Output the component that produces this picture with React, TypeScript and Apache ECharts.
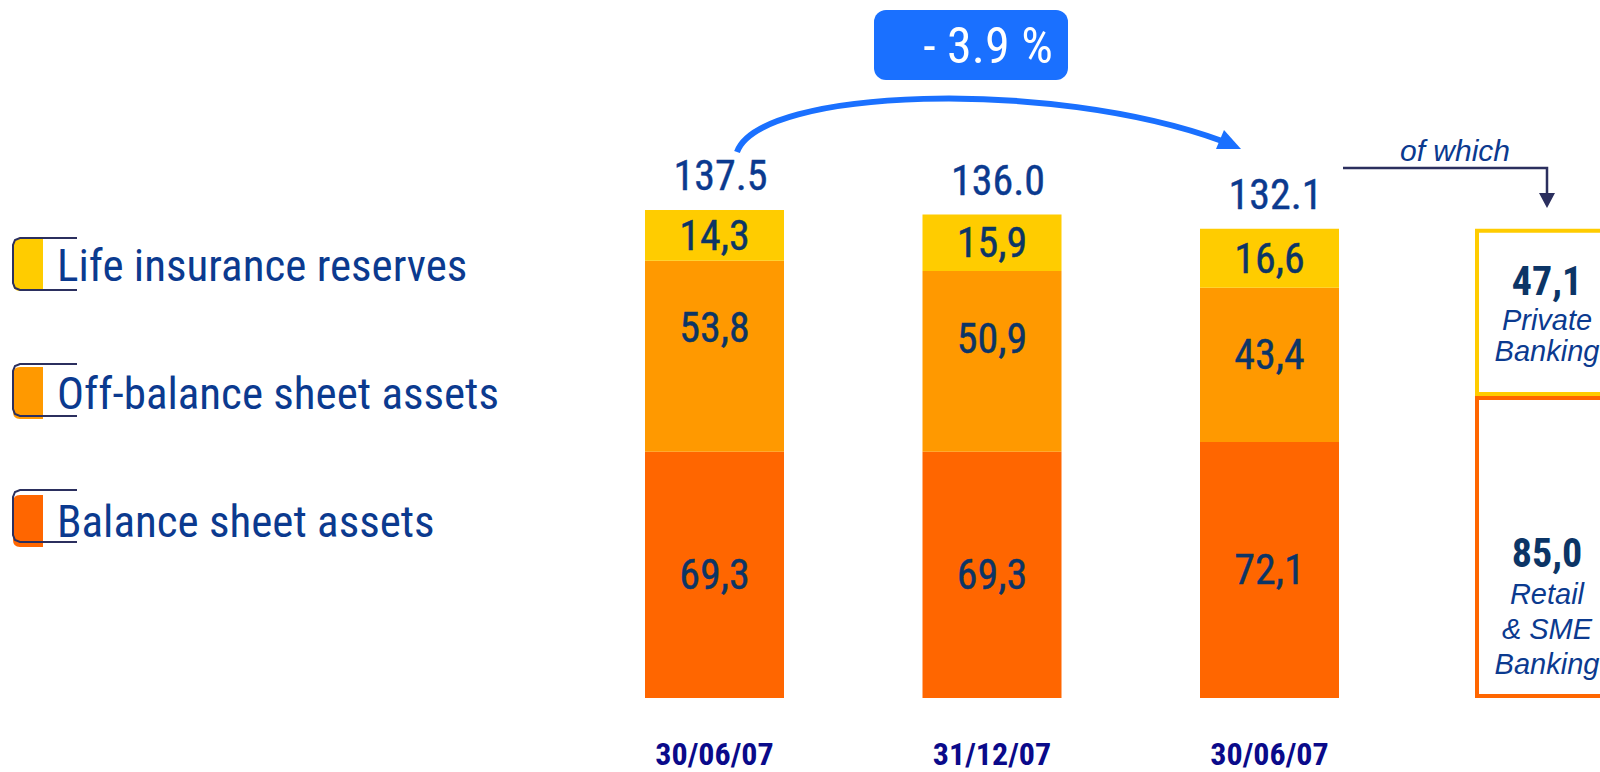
import React, { useEffect, useRef } from "react";
import * as echarts from "echarts";

// ---- data ----
const categories = ["30/06/07", "31/12/07", "30/06/07", ""];
const seriesNames = ["Balance sheet assets", "Off-balance sheet assets", "Life insurance reserves"];
const balanceSheet = [69.3, 69.3, 72.1, null];
const offBalance = [53.8, 50.9, 43.4, null];
const lifeInsurance = [14.3, 15.9, 16.6, null];
const totals = [137.5, 136.0, 132.1];
const retailSme = [null, null, null, 85.0];
const privateBanking = [null, null, null, 47.1];
const boxNames = ["Retail & SME Banking", "Private Banking"];
const changeLabel = "- 3.9 %";
const ofWhichLabel = "of which";

// ---- style ----
const NARROW = '"Liberation Sans Narrow", "Roboto Condensed", "DejaVu Sans Condensed", sans-serif';
const SANS = '"Liberation Sans", Arial, sans-serif';
const YELLOW = "#FFCC00";
const ORANGE = "#FF9900";
const RED = "#FF6600";
const NAVY = "#0C3566";
const BLUE_TXT = "#0B3A8F";
const OUTLINE = "#2B2F5E";

const comma = (v: number) => v.toFixed(1).replace(".", ",");

export default function App() {
  const ref = useRef<HTMLDivElement>(null);
  useEffect(() => {
    const chart = echarts.init(ref.current!, null, { renderer: "svg" });

    const segLabel = (pos: any, dist: number) => ({
      show: true,
      position: pos,
      distance: dist,
      color: NAVY,
      fontFamily: NARROW,
      fontSize: 42,
      lineHeight: 46,
      textBorderColor: NAVY,
      textBorderWidth: 0.4,
      formatter: (p: any) => comma(p.value),
    });

    const legendTops = [238, 364, 490];
    const outlines: any[] = legendTops.map((t) => ({
      type: "polyline",
      z: 10,
      shape: {
        points: [
          [77, t], [20, t], [15, t + 2], [13, t + 7], [13, t + 45], [15, t + 50], [20, t + 52], [77, t + 52],
        ],
      },
      style: { fill: "none", stroke: OUTLINE, lineWidth: 2 },
    }));

    const option: any = {
      animation: false,
      backgroundColor: "#ffffff",
      legend: {
        orient: "vertical",
        left: 13,
        top: 238,
        padding: 0,
        itemWidth: 30,
        itemHeight: 52,
        itemGap: 74,
        selectedMode: false,
        icon: "path://M7,0 L30,0 L30,52 L7,52 Q0,52 0,45 L0,7 Q0,0 7,0 Z",
        data: ["Life insurance reserves", "Off-balance sheet assets", "Balance sheet assets"],
        textStyle: {
          color: BLUE_TXT,
          fontFamily: NARROW,
          fontSize: 45,
          lineHeight: 50,
          padding: [4, 0, 0, 9],
        },
      },
      grid: {
        left: 575.75,
        width: 1110,
        top: 200.7,
        height: 497.3,
        containLabel: false,
        outerBoundsMode: "none",
      },
      xAxis: [
        {
          type: "category",
          data: categories,
          axisLine: { show: false },
          axisTick: { show: false },
          axisLabel: {
            margin: 40,
            color: "#0A0A8A",
            fontFamily: NARROW,
            fontWeight: "bold",
            fontSize: 32,
            lineHeight: 32,
          },
        },
        { type: "category", data: categories, show: false },
      ],
      yAxis: { type: "value", min: 0, max: 140, show: false },
      series: [
        {
          name: seriesNames[0],
          type: "bar",
          stack: "total",
          barWidth: 139,
          data: balanceSheet,
          itemStyle: { color: RED },
          label: segLabel("inside", 0),
        },
        {
          name: seriesNames[1],
          type: "bar",
          stack: "total",
          barWidth: 139,
          data: offBalance,
          itemStyle: { color: ORANGE },
          label: segLabel("insideTop", 44),
        },
        {
          name: seriesNames[2],
          type: "bar",
          stack: "total",
          barWidth: 139,
          data: lifeInsurance,
          itemStyle: { color: YELLOW },
          label: segLabel("inside", 0),
        },
        {
          name: "totals",
          type: "bar",
          stack: "total",
          barWidth: 139,
          data: [0, 0, 0, null],
          itemStyle: { color: "transparent" },
          label: {
            show: true,
            position: "top",
            distance: 12,
            offset: [6, 0],
            color: BLUE_TXT,
            fontFamily: NARROW,
            fontSize: 42,
            lineHeight: 44,
            textBorderColor: BLUE_TXT,
            textBorderWidth: 0.4,
            formatter: (p: any) => totals[p.dataIndex].toFixed(1),
          },
        },
        {
          name: boxNames[0],
          type: "bar",
          stack: "box",
          xAxisIndex: 1,
          barWidth: 144,
          data: retailSme,
          itemStyle: { color: "#ffffff", borderColor: RED, borderWidth: 4 },
          label: {
            show: true,
            position: "insideBottom",
            distance: 17,
            formatter: (p: any) => `{n|${comma(p.value)}}\n{i|Retail}\n{i|& SME}\n{i|Banking}`,
            rich: {
              n: { fontFamily: NARROW, fontWeight: "bold", fontSize: 40, lineHeight: 46, color: NAVY },
              i: { fontFamily: SANS, fontStyle: "italic", fontSize: 29, lineHeight: 35, color: BLUE_TXT },
            },
          },
        },
        {
          name: boxNames[1],
          type: "bar",
          stack: "box",
          xAxisIndex: 1,
          barWidth: 144,
          data: privateBanking,
          itemStyle: { color: "#ffffff", borderColor: YELLOW, borderWidth: 4 },
          label: {
            show: true,
            position: "inside",
            formatter: (p: any) => `{n|${comma(p.value)}}\n{i|Private}\n{i|Banking}`,
            rich: {
              n: { fontFamily: NARROW, fontWeight: "bold", fontSize: 40, lineHeight: 46, color: NAVY },
              i: { fontFamily: SANS, fontStyle: "italic", fontSize: 29, lineHeight: 31, color: BLUE_TXT },
            },
          },
        },
      ],
      graphic: [
        ...outlines,
        {
          type: "rect",
          shape: { x: 874, y: 10, width: 194, height: 70, r: 12 },
          style: { fill: "#1A70FF" },
        },
        {
          type: "text",
          x: 988,
          y: 46,
          style: {
            text: changeLabel,
            fill: "#ffffff",
            fontFamily: NARROW,
            fontSize: 50,
            align: "center",
            verticalAlign: "middle",
          },
        },
        {
          type: "bezierCurve",
          shape: { x1: 737, y1: 152, cpx1: 760, cpy1: 88, cpx2: 1050, cpy2: 78, x2: 1222, y2: 141 },
          style: { fill: "none", stroke: "#1A70FF", lineWidth: 6 },
        },
        {
          type: "polygon",
          shape: { points: [[1241, 149], [1216, 149], [1224, 130]] },
          style: { fill: "#1A70FF" },
        },
        {
          type: "text",
          x: 1455,
          y: 150,
          style: {
            text: ofWhichLabel,
            fill: BLUE_TXT,
            fontFamily: SANS,
            fontStyle: "italic",
            fontSize: 30,
            align: "center",
            verticalAlign: "middle",
          },
        },
        {
          type: "polyline",
          shape: { points: [[1343, 168], [1547, 168], [1547, 194]] },
          style: { fill: "none", stroke: OUTLINE, lineWidth: 2.5 },
        },
        {
          type: "polygon",
          shape: { points: [[1539, 193], [1555, 193], [1547, 208]] },
          style: { fill: OUTLINE },
        },
      ],
    };

    chart.setOption(option);
    return () => chart.dispose();
  }, []);

  return (
    <div
      ref={ref}
      style={{ position: "fixed", left: 0, top: 0, width: 1600, height: 772, background: "#fff" }}
    />
  );
}
